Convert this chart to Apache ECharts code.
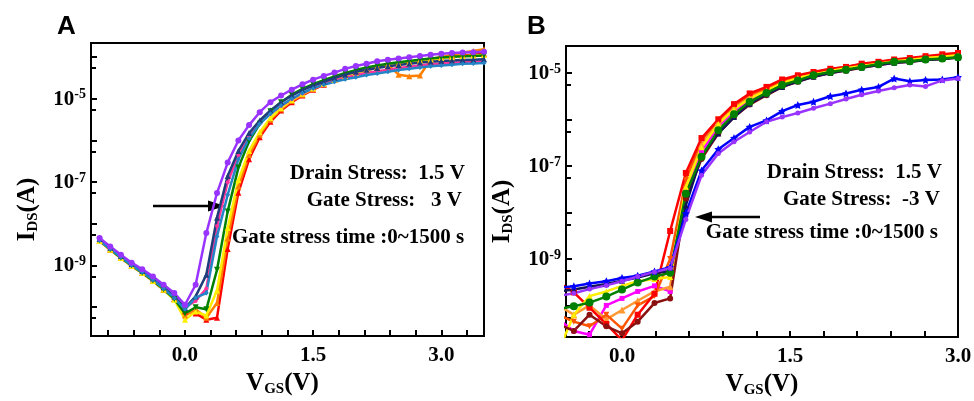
<!DOCTYPE html>
<html>
<head>
<meta charset="utf-8">
<title>I-V transfer curves under gate stress</title>
<script src="https://cdn.jsdelivr.net/npm/echarts@6/dist/echarts.min.js"></script>
<style>
    html, body { margin: 0; padding: 0; background: #fff; }
    #chart { width: 974px; height: 401px; }
</style>
</head>
<body>
<div id="chart"></div>
<script>
// values, currents kept as log10(I_DS / A)

// panel A  (gate stress +3 V)
const vgsA = [-1.0,-0.875,-0.75,-0.625,-0.5,-0.375,-0.25,-0.125,0.0,0.125,0.25,0.375,0.5,0.625,0.75,0.875,1.0,1.125,1.25,1.375,1.5,1.625,1.75,1.875,2.0,2.125,2.25,2.375,2.5,2.625,2.75,2.875,3.0,3.125,3.25,3.375,3.5]
const aPurple  = [-8.34,-8.54,-8.74,-8.93,-9.09,-9.26,-9.46,-9.66,-9.94,-9.46,-8.22,-7.26,-6.53,-6.0,-5.63,-5.32,-5.08,-4.92,-4.78,-4.65,-4.54,-4.45,-4.37,-4.28,-4.21,-4.16,-4.10,-4.06,-4.03,-4.0,-3.97,-3.94,-3.92,-3.90,-3.89,-3.88,-3.87]
const aNavy    = [-8.36,-8.57,-8.77,-8.96,-9.13,-9.31,-9.52,-9.74,-10.02,-9.74,-9.22,-7.85,-6.85,-6.25,-5.82,-5.52,-5.28,-5.08,-4.92,-4.79,-4.68,-4.59,-4.5,-4.42,-4.35,-4.30,-4.26,-4.22,-4.19,-4.16,-4.13,-4.11,-4.09,-4.08,-4.07,-4.06,-4.05]
const aSteel   = [-8.40,-8.60,-8.80,-8.99,-9.16,-9.34,-9.55,-9.78,-10.05,-9.77,-9.66,-8.3,-7.3,-6.45,-5.95,-5.6,-5.36,-5.16,-5.0,-4.86,-4.75,-4.66,-4.59,-4.53,-4.48,-4.43,-4.39,-4.35,-4.31,-4.28,-4.25,-4.22,-4.2,-4.18,-4.16,-4.15,-4.14]
const aMagenta = [-8.38,-8.58,-8.78,-8.97,-9.14,-9.32,-9.53,-9.76,-10.0,-9.85,-9.55,-8.05,-7.0,-6.35,-5.9,-5.58,-5.36,-5.17,-5.01,-4.87,-4.74,-4.64,-4.56,-4.49,-4.43,-4.38,-4.34,-4.30,-4.26,-4.23,-4.2,-4.17,-4.15,-4.13,-4.12,-4.11,-4.1]
const aGreen   = [-8.40,-8.61,-8.81,-9.0,-9.17,-9.36,-9.57,-9.8,-10.15,-10.0,-10.05,-9.1,-7.7,-6.65,-6.02,-5.6,-5.3,-5.08,-4.9,-4.76,-4.65,-4.55,-4.46,-4.38,-4.31,-4.25,-4.2,-4.16,-4.12,-4.09,-4.06,-4.03,-4.01,-3.99,-3.98,-3.97,-3.96]
const aYellow  = [-8.41,-8.62,-8.82,-9.01,-9.18,-9.37,-9.58,-9.82,-10.3,-10.1,-10.2,-9.6,-8.1,-6.95,-6.25,-5.8,-5.46,-5.22,-5.03,-4.88,-4.75,-4.64,-4.54,-4.46,-4.38,-4.31,-4.25,-4.2,-4.16,-4.12,-4.08,-4.05,-4.02,-4.0,-3.98,-3.96,-3.95]
const aOrange  = [-8.40,-8.61,-8.81,-9.0,-9.17,-9.36,-9.57,-9.8,-10.2,-10.05,-10.25,-9.9,-8.35,-7.1,-6.35,-5.86,-5.5,-5.25,-5.05,-4.9,-4.76,-4.64,-4.54,-4.45,-4.36,-4.29,-4.23,-4.18,-4.42,-4.46,-4.44,-4.06,-4.0,-3.94,-3.89,-3.85,-3.81]
const aRed     = [-8.41,-8.62,-8.82,-9.01,-9.18,-9.37,-9.58,-9.8,-10.1,-10.15,-10.3,-10.25,-8.6,-7.25,-6.45,-5.92,-5.55,-5.28,-5.08,-4.92,-4.78,-4.66,-4.55,-4.46,-4.38,-4.31,-4.25,-4.2,-4.15,-4.11,-4.07,-4.04,-4.01,-3.98,-3.96,-3.94,-3.92]

// panel B  (gate stress -3 V)
const vgsB = [-0.57,-0.43,-0.29,-0.14,0,0.14,0.29,0.43,0.57,0.71,0.86,1.0,1.14,1.29,1.43,1.57,1.71,1.86,2.0,2.14,2.29,2.43,2.57,2.71,2.86,3.0]
const bPurple    = [-9.8,-9.74,-9.65,-9.57,-9.48,-9.38,-9.28,-9.2,-8.15,-7.2,-6.73,-6.48,-6.27,-6.05,-5.95,-5.86,-5.76,-5.66,-5.56,-5.47,-5.39,-5.32,-5.26,-5.29,-5.16,-5.12]
const bBlue      = [-9.62,-9.59,-9.53,-9.48,-9.41,-9.36,-9.27,-9.18,-8.02,-7.1,-6.64,-6.4,-6.16,-6.02,-5.82,-5.69,-5.62,-5.5,-5.44,-5.36,-5.3,-5.12,-5.18,-5.15,-5.14,-5.09]
const bNavy      = [-9.7,-9.66,-9.6,-9.54,-9.47,-9.4,-9.31,-9.26,-7.85,-6.78,-6.3,-5.95,-5.66,-5.46,-5.3,-5.18,-5.08,-5.0,-4.94,-4.88,-4.83,-4.78,-4.76,-4.72,-4.7,-4.67]
const bDarkRed   = [-10.4,-10.55,-10.2,-10.45,-10.6,-10.35,-9.95,-9.85,-7.7,-6.85,-6.3,-5.95,-5.68,-5.48,-5.3,-5.19,-5.08,-5.0,-4.95,-4.89,-4.83,-4.78,-4.76,-4.72,-4.7,-4.67]
const bGreen     = [-10.08,-10.02,-9.94,-9.81,-9.66,-9.51,-9.38,-9.3,-7.6,-6.8,-6.23,-5.89,-5.62,-5.43,-5.26,-5.16,-5.05,-4.98,-4.93,-4.87,-4.81,-4.76,-4.75,-4.71,-4.69,-4.66]
const bYellow    = [-11.0,-10.2,-9.8,-9.7,-9.58,-9.48,-9.43,-9.39,-7.45,-6.6,-6.1,-5.78,-5.55,-5.38,-5.22,-5.11,-5.03,-4.96,-4.9,-4.85,-4.8,-4.75,-4.72,-4.68,-4.65,-4.62]
const bMagenta   = [-10.3,-10.55,-10.63,-10.0,-9.85,-9.7,-9.58,-9.7,-7.6,-6.7,-6.15,-5.82,-5.58,-5.4,-5.24,-5.13,-5.05,-4.97,-4.91,-4.86,-4.81,-4.76,-4.73,-4.69,-4.66,-4.63]
const bOrange    = [-10.0,-10.2,-10.0,-10.3,-10.1,-9.9,-9.7,-9.6,-7.5,-6.55,-6.05,-5.73,-5.5,-5.34,-5.19,-5.08,-5.0,-4.94,-4.88,-4.83,-4.78,-4.73,-4.7,-4.66,-4.62,-4.59]
const bOrangeRed = [-10.2,-10.35,-10.45,-10.2,-10.5,-10.0,-9.8,-9.0,-7.3,-6.45,-6.0,-5.7,-5.47,-5.32,-5.17,-5.07,-4.99,-4.92,-4.87,-4.81,-4.77,-4.72,-4.69,-4.65,-4.61,-4.58]
const bRed       = [-9.5,-9.72,-10.05,-10.4,-10.75,-10.2,-9.75,-8.4,-7.15,-6.4,-6.0,-5.67,-5.44,-5.3,-5.14,-5.05,-4.98,-4.91,-4.87,-4.8,-4.76,-4.71,-4.68,-4.64,-4.6,-4.57]

// ticks / labels
const xLabels = [0, 1.5, 3.0]
const xTicksA = [-0.9,-0.6,-0.3,0,0.3,0.6,0.9,1.2,1.5,1.8,2.1,2.4,2.7,3.0,3.3]
const xTicksB = [-0.3,0,0.3,0.6,0.9,1.2,1.5,1.8,2.1,2.4,2.7]
const yLabelExps = [-9, -7, -5]

const SERIF = '"Liberation Serif", "Times New Roman", serif'
const STAR = 'path://M0,-10L2.9,-4L9.5,-3.1L4.7,1.5L5.9,8.1L0,5L-5.9,8.1L-4.7,1.5L-9.5,-3.1L-2.9,-4Z'

function toPairs(xs, logs) {
    return xs.map(function (x, i) { return [x, Math.pow(10, logs[i])] })
}

function line(panel, xs, logs, color, symbol, size, rotate) {
    return {
        type: 'line',
        xAxisIndex: panel,
        yAxisIndex: panel,
        data: toPairs(xs, logs),
        symbol: symbol,
        symbolSize: size,
        symbolRotate: rotate || 0,
        showSymbol: true,
        lineStyle: { color: color, width: 2.5 },
        itemStyle: { color: color },
        emphasis: { disabled: true },
        clip: true
    }
}

const seriesA = [
    line(0, vgsA, aRed, '#ff0000', 'triangle', 6),
    line(0, vgsA, aOrange, '#ff8000', 'triangle', 6),
    line(0, vgsA, aYellow, '#ffee00', 'triangle', 6),
    line(0, vgsA, aGreen, '#008000', 'triangle', 6, 180),
    line(0, vgsA, aMagenta, '#ff3399', 'circle', 4),
    line(0, vgsA, aNavy, '#1f3d7a', 'triangle', 6),
    line(0, vgsA, aSteel, '#2384c6', 'diamond', 5),
    line(0, vgsA, aPurple, '#9933ff', 'circle', 6)
]

const seriesB = [
    line(1, vgsB, bMagenta, '#ff00ff', 'rect', 5),
    line(1, vgsB, bOrange, '#ff9933', 'triangle', 7),
    line(1, vgsB, bOrangeRed, '#ff5500', 'triangle', 6, 180),
    line(1, vgsB, bRed, '#ff0000', 'rect', 6),
    line(1, vgsB, bYellow, '#ffee00', 'triangle', 6),
    line(1, vgsB, bDarkRed, '#8b1010', 'circle', 6),
    line(1, vgsB, bNavy, '#14145a', 'triangle', 6),
    line(1, vgsB, bGreen, '#008000', 'circle', 8),
    line(1, vgsB, bBlue, '#0000ff', STAR, 8),
    line(1, vgsB, bPurple, '#9933ff', 'circle', 5)
]

function powLabel(v) {
    const e = Math.log10(v)
    const n = Math.round(e)
    if (Math.abs(e - n) > 0.01) return ''
    if (yLabelExps.indexOf(n) < 0) return ''
    return '{b|10}{s|' + n + '}'
}

const powRich = {
    b: { fontFamily: SERIF, fontWeight: 'bold', fontSize: 21, color: '#000', lineHeight: 22, padding: [4, 0, 0, 0], verticalAlign: 'bottom' },
    s: { fontFamily: SERIF, fontWeight: 'bold', fontSize: 14, color: '#000', lineHeight: 14, verticalAlign: 'top' }
}

const subRich = {
    v: { fontFamily: SERIF, fontWeight: 'bold', fontSize: 25, color: '#000', lineHeight: 26, padding: [0, 0, 4, 0], verticalAlign: 'top' },
    s: { fontFamily: SERIF, fontWeight: 'bold', fontSize: 15, color: '#000', lineHeight: 14, verticalAlign: 'bottom' }
}

const blackLine = { color: '#000', width: 2 }

function xAxis(idx, min, max, ticks, shift) {
    return {
        type: 'value', gridIndex: idx, min: min, max: max,
        axisLine: { show: true, onZero: false, lineStyle: blackLine },
        axisTick: { show: true, inside: true, length: 6, customValues: ticks, lineStyle: blackLine },
        axisLabel: {
            customValues: xLabels, margin: 9,
            formatter: function (v) { return v.toFixed(1) },
            fontFamily: SERIF, fontWeight: 'bold', fontSize: 21, color: '#000'
        },
        splitLine: { show: false },
        name: '{v|V}{s|GS}{v|(V)}',
        nameLocation: 'middle', nameGap: 30,
        nameTextStyle: { rich: subRich, padding: [0, shift, 0, 0] }
    }
}

function yAxis(idx, lo, hi) {
    return {
        type: 'log', logBase: 10, gridIndex: idx,
        min: Math.pow(10, lo), max: Math.pow(10, hi),
        axisLine: { show: true, onZero: false, lineStyle: blackLine },
        axisTick: { show: true, inside: true, length: 6, lineStyle: blackLine },
        minorTick: { show: true, splitNumber: 2, length: 5, lineStyle: blackLine },
        axisLabel: { formatter: powLabel, rich: powRich, margin: 5 },
        splitLine: { show: false },
        minorSplitLine: { show: false },
        name: '{v|I}{s|DS}{v|(A)}',
        nameLocation: 'middle', nameGap: 50,
        // right padding pushes the rotated title down, as in the figure
        nameTextStyle: { rich: subRich, padding: [0, 40, 0, 0] }
    }
}

function note(x, y, text, align) {
    return {
        type: 'text', x: x, y: y,
        style: { text: text, fill: '#000', font: 'bold 21px ' + SERIF, align: align, verticalAlign: 'middle' }
    }
}

const chart = echarts.init(document.getElementById('chart'), null, { renderer: 'canvas' })
chart.setOption({
    animation: false,
    backgroundColor: '#fff',
    grid: [
        { left: 91, top: 43, width: 393, height: 293, show: true, borderColor: '#000', borderWidth: 2, backgroundColor: 'transparent', containLabel: false, outerBoundsMode: 'none' },
        { left: 566, top: 46, width: 392, height: 291, show: true, borderColor: '#000', borderWidth: 2, backgroundColor: 'transparent', containLabel: false, outerBoundsMode: 'none' }
    ],
    xAxis: [xAxis(0, -1.1, 3.5, xTicksA, 10), xAxis(1, -0.5, 3.0, xTicksB, 0)],
    yAxis: [yAxis(0, -10.69, -3.66), yAxis(1, -10.68, -4.42)],
    series: seriesA.concat(seriesB),
    graphic: [
        { type: 'text', x: 57, y: 27, style: { text: 'A', fill: '#000', font: 'bold 26px "Liberation Sans", Arial, sans-serif', verticalAlign: 'middle' } },
        { type: 'text', x: 527, y: 27, style: { text: 'B', fill: '#000', font: 'bold 26px "Liberation Sans", Arial, sans-serif', verticalAlign: 'middle' } },
        note(465, 174, 'Drain Stress:  1.5 V', 'right'),
        note(462, 201, 'Gate Stress:   3 V', 'right'),
        note(232, 238, 'Gate stress time :0~1500 s', 'left'),
        note(942, 173, 'Drain Stress:  1.5 V', 'right'),
        note(940, 200, 'Gate Stress:  -3 V', 'right'),
        note(938, 233, 'Gate stress time :0~1500 s', 'right'),
        { type: 'line', shape: { x1: 153, y1: 206, x2: 210, y2: 206 }, style: { stroke: '#000', lineWidth: 2.5 } },
        { type: 'polygon', shape: { points: [[225, 206], [208, 200.5], [208, 211.5]] }, style: { fill: '#000' } },
        { type: 'line', shape: { x1: 760, y1: 217, x2: 708, y2: 217 }, style: { stroke: '#000', lineWidth: 2.5 } },
        { type: 'polygon', shape: { points: [[695, 217], [712, 211.5], [712, 222.5]] }, style: { fill: '#000' } }
    ]
})
</script>
</body>
</html>
